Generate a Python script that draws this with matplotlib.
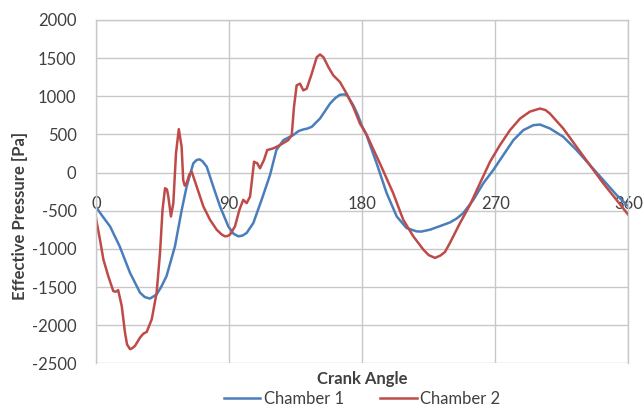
import numpy as np
import matplotlib.pyplot as plt

plt.rcParams['font.family'] = ['Lato', 'DejaVu Sans']
plt.rcParams['axes.unicode_minus'] = False

# Chamber 1 effective pressure vs crank angle
angle_1 = [0, 4, 9.5, 16, 23, 29.8, 33, 36.5, 41, 44, 47.7, 53.4, 58, 61.3,
           65.8, 68, 70, 72, 74.9, 79.3, 83.9, 89.5, 93, 96.2, 99, 101.9,
           106.4, 112, 117.7, 122, 126.7, 133.4, 137, 140.2, 143, 145.9,
           151.5, 158.3, 162, 165, 168, 170, 174, 177, 179.7, 183, 189.8,
           196.6, 203.4, 210, 216.8, 220, 225.9, 232.7, 239.4, 244, 248.4,
           255.2, 262, 268.7, 275.5, 282.3, 289, 295.8, 300.3, 307, 316,
           325, 334, 343, 352, 358.8, 360]
pressure_1 = [-450, -560, -704, -965, -1312, -1573, -1630, -1650, -1595,
              -1500, -1356, -965, -486, -182, 122, 165, 175, 150, 78, -182,
              -443, -704, -800, -834, -825, -790, -660, -356, -30, 296, 426,
              492, 545, 566, 578, 600, 709, 905, 980, 1020, 1025, 1010, 883,
              760, 620, 490, 122, -269, -574, -725, -769, -772, -747, -700,
              -652, -600, -530, -356, -138, 35, 231, 426, 557, 622, 630, 579,
              470, 296, 100, -95, -291, -420, -435]

# Chamber 2 effective pressure vs crank angle
angle_2 = [0, 2.7, 5, 8.3, 11.7, 13.5, 15, 17.4, 19.6, 21, 23, 24.5, 26.4,
           29.8, 32, 34.3, 37.7, 41, 43.3, 45, 46.7, 48, 48.9, 50.7, 52.3,
           54.1, 56, 57.9, 59, 60, 61.3, 63, 64.7, 66, 68.1, 72.6, 77.1,
           81.6, 85, 87.2, 89, 90.6, 94, 97, 99.6, 101.9, 104.2, 106.9,
           109.1, 110.9, 113.6, 115.8, 119.9, 124.4, 130, 132.4, 133.9,
           135.7, 138, 140.2, 142.5, 145.9, 149.3, 151.5, 153.8, 157.2,
           160.5, 165, 169.5, 174, 178.5, 183, 187, 192, 201, 207.8, 214.6,
           221.4, 225, 229.3, 233, 236, 239.4, 246.2, 253, 259.7, 266.5,
           273.2, 280, 286.8, 293.5, 300.3, 304, 307, 316, 325, 334, 343,
           352, 360]
pressure_2 = [-600, -878, -1138, -1356, -1552, -1560, -1539, -1747, -2094,
              -2250, -2312, -2300, -2269, -2160, -2110, -2086, -1921, -1573,
              -1051, -486, -204, -220, -313, -574, -399, 253, 570, 339, -100,
              -170, -139, -30, 13, -60, -182, -443, -617, -747, -810, -834,
              -830, -812, -704, -486, -356, -399, -313, 143, 122, 57, 166,
              296, 318, 361, 426, 492, 861, 1144, 1166, 1078, 1100, 1296,
              1513, 1548, 1513, 1382, 1274, 1187, 1035, 861, 644, 500, 330,
              122, -269, -617, -834, -1008, -1080, -1117, -1085, -1040, -920,
              -660, -421, -138, 143, 361, 557, 709, 800, 840, 820, 774, 579,
              339, 100, -138, -356, -552]

x_ticks = [0, 90, 180, 270, 360]
y_ticks = [-2500, -2000, -1500, -1000, -500, 0, 500, 1000, 1500, 2000]

fs = 12
txt = '#404040'
grid_c = '#c8c8c8'

fig = plt.figure(figsize=(6.43, 4.07), dpi=100)
ax = fig.add_axes([0.1493, 0.1069, 0.8278, 0.8440])

ax.plot(angle_1, pressure_1, color='#4a7ebb', lw=1.8, label='Chamber 1')
ax.plot(angle_2, pressure_2, color='#be4b48', lw=1.8, label='Chamber 2')

ax.set_xlim(0, 360)
ax.set_ylim(-2500, 2000)
ax.set_xticks(x_ticks)
ax.set_yticks(y_ticks)
ax.grid(True, color=grid_c, lw=1.0)
ax.set_axisbelow(True)

# horizontal axis crosses at zero, labels sit just under it
ax.spines['bottom'].set_position(('data', 0))
ax.spines['bottom'].set_visible(False)
for s in ['left', 'right', 'top']:
    ax.spines[s].set_color(grid_c)
    ax.spines[s].set_linewidth(1.0)
ax.tick_params(axis='both', length=0, labelsize=fs, labelcolor=txt)
ax.tick_params(axis='x', pad=17)
ax.tick_params(axis='y', pad=14)

ax.set_ylabel('Effective Pressure [Pa]', fontsize=fs, fontweight='bold',
              color=txt)
ax.yaxis.set_label_coords(-0.128, 0.43)
fig.text(362 / 643, 1 - 379 / 407, 'Crank Angle', fontsize=fs,
         fontweight='bold', color=txt, ha='center', va='center')

fig.legend(loc='center', bbox_to_anchor=(362 / 643, 1 - 398.5 / 407), ncol=2,
           frameon=False, fontsize=fs, labelcolor=txt, handlelength=2.2,
           handletextpad=0.2, columnspacing=2.2, borderpad=0)

fig.savefig('out.png', dpi=100)
